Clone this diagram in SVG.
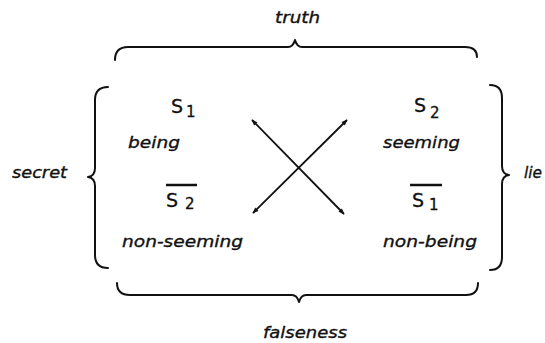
<svg xmlns="http://www.w3.org/2000/svg" width="545" height="343" viewBox="0 0 545 343">
<defs>
<style>
.lbl{font-family:"DejaVu Sans","Liberation Sans",sans-serif;font-style:italic;font-size:16px;fill:#111;stroke:#111;stroke-width:0.35}
.sym{font-family:"DejaVu Sans","Liberation Sans",sans-serif;font-size:19px;fill:#111;stroke:#111;stroke-width:0.3}
.sub{font-family:"DejaVu Sans","Liberation Sans",sans-serif;font-size:15px;fill:#111;stroke:#111;stroke-width:0.3}
.brace{fill:none;stroke:#111;stroke-width:2;stroke-linecap:round;stroke-linejoin:round}
.bar{stroke:#111;stroke-width:2.5}
.arrow{stroke:#111;stroke-width:1.8;fill:none;marker-start:url(#head);marker-end:url(#head)}
</style>
<marker id="head" viewBox="0 0 10 10" refX="9" refY="5" markerWidth="8" markerHeight="6" orient="auto-start-reverse" markerUnits="userSpaceOnUse">
<path d="M0,1 L10,5 L0,9 Z" fill="#111"/>
</marker>
</defs>
<rect width="545" height="343" fill="#fff"/>

<g id="truth">
<path class="brace" d="M115,60 Q115,47 128,47 L288,47 Q293,47 295,40 Q297,47 302,47 L465,47 Q477,47 477,57"/>
<text class="lbl" x="275" y="23" textLength="45" lengthAdjust="spacingAndGlyphs">truth</text>
</g>
<g id="falseness">
<path class="brace" d="M117,283 Q117,295 130,295 L292,295 Q297,295 299,302 Q301,295 306,295 L466,295 Q478,295 478,283"/>
<text class="lbl" x="263" y="338" textLength="84" lengthAdjust="spacingAndGlyphs">falseness</text>
</g>
<g id="secret">
<path class="brace" d="M108,87 Q95,87 95,100 L95,168 Q95,176 88,177 Q95,178 95,186 L95,255 Q95,268 108,268"/>
<text class="lbl" x="12" y="178" textLength="55" lengthAdjust="spacingAndGlyphs">secret</text>
</g>
<g id="lie">
<path class="brace" d="M490,85 Q502,85 502,98 L502,166 Q502,174 509,175 Q502,176 502,184 L502,257 Q502,270 490,270"/>
<text class="lbl" x="524" y="178" textLength="18" lengthAdjust="spacingAndGlyphs">lie</text>
</g>

<g id="s1">
<text class="sym" x="171" y="113">S</text>
<text class="sub" x="186" y="117">1</text>
<text class="lbl" x="128" y="148" textLength="52" lengthAdjust="spacingAndGlyphs">being</text>
</g>
<g id="s2">
<text class="sym" x="414" y="112">S</text>
<text class="sub" x="430" y="118">2</text>
<text class="lbl" x="383" y="148" textLength="77" lengthAdjust="spacingAndGlyphs">seeming</text>
</g>
<g id="not-s2">
<line class="bar" x1="166" y1="185" x2="197" y2="185"/>
<text class="sym" x="166" y="207">S</text>
<text class="sub" x="185" y="209">2</text>
<text class="lbl" x="122" y="247" textLength="121" lengthAdjust="spacingAndGlyphs">non-seeming</text>
</g>
<g id="not-s1">
<line class="bar" x1="410" y1="185" x2="442" y2="185"/>
<text class="sym" x="412" y="207">S</text>
<text class="sub" x="429" y="210">1</text>
<text class="lbl" x="383" y="247" textLength="94" lengthAdjust="spacingAndGlyphs">non-being</text>
</g>

<g id="connectors">
<line class="arrow" x1="252" y1="120" x2="344" y2="214"/>
<line class="arrow" x1="347" y1="120" x2="253" y2="213"/>
</g>
</svg>
